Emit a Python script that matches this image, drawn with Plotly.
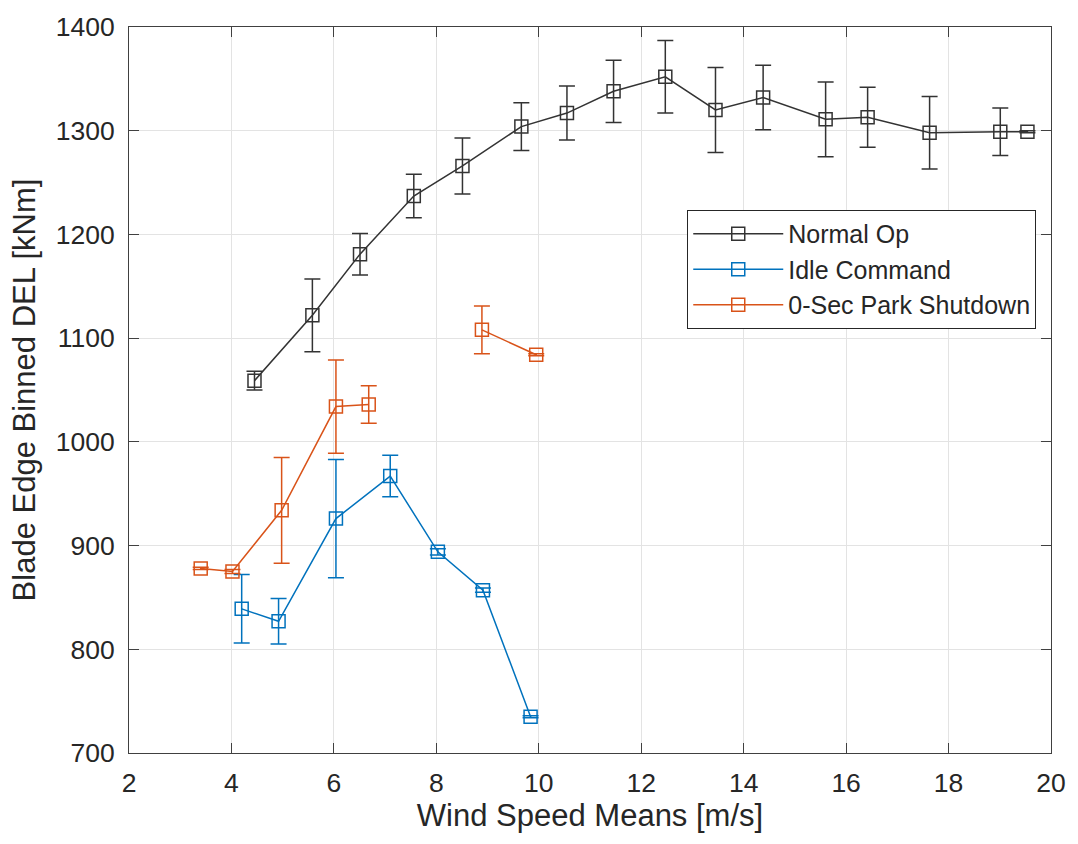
import plotly.graph_objects as go

# Normal Op
normal_x = [4.45, 5.58, 6.51, 7.56, 8.51, 9.66, 10.55, 11.46, 12.47, 13.45, 14.38, 15.60, 16.42, 17.63, 19.01, 19.54]
normal_y = [1059, 1122, 1181, 1237, 1266, 1304, 1317, 1338, 1352, 1320, 1332, 1311, 1313, 1298, 1299, 1299]
normal_err = [9, 35, 20, 21, 27, 23, 26, 30, 35, 41, 31, 36, 29, 35, 23, 1]

# Idle Command
idle_x = [4.20, 4.92, 6.04, 7.10, 8.03, 8.91, 9.84]
idle_y = [839, 827, 926, 967, 894, 857, 735]
idle_err = [33, 22, 57, 20, 3, 2, 1]

# 0-Sec Park Shutdown (None marks the gap in the line between the two groups)
park_x = [3.40, 4.02, 4.98, 6.04, 6.68, None, 8.89, 9.95]
park_y = [878, 875, 934, 1034, 1036, None, 1108, 1084]
park_err = [1, 2, 51, 45, 18, 0, 23, 1]

x_ticks = [2, 4, 6, 8, 10, 12, 14, 16, 18, 20]
y_ticks = [700, 800, 900, 1000, 1100, 1200, 1300, 1400]

FONT = "Liberation Sans, Arial, sans-serif"
TXT = "#262626"

series = [
    ("Normal Op", normal_x, normal_y, normal_err, "#333333"),
    ("Idle Command", idle_x, idle_y, idle_err, "#0072BD"),
    ("0-Sec Park Shutdown", park_x, park_y, park_err, "#D95319"),
]

fig = go.Figure()
for name, xs, ys, es, col in series:
    fig.add_trace(go.Scatter(
        x=xs, y=ys, name=name, mode="lines+markers", connectgaps=False,
        line=dict(color=col, width=1.5),
        marker=dict(symbol="square-open", size=13, color=col, line=dict(width=1.5, color=col)),
        error_y=dict(type="data", array=es, visible=True, color=col, thickness=1.5, width=8),
    ))

axis_common = dict(
    showgrid=True, gridcolor="#e3e3e3", gridwidth=1,
    showline=True, linecolor="#404040", linewidth=1, mirror="ticks",
    ticks="inside", ticklen=10, tickcolor="#404040", tickwidth=1,
    tickfont=dict(family=FONT, size=26.5, color=TXT),
    zeroline=False,
)

fig.update_layout(
    width=1078, height=844,
    margin=dict(l=129, r=20, t=19, b=91),
    paper_bgcolor="white", plot_bgcolor="white",
    font=dict(family=FONT, color=TXT),
    xaxis=dict(range=[2, 20], tickvals=x_ticks, ticklabelstandoff=6,
               title=dict(text="Wind Speed Means [m/s]", font=dict(family=FONT, size=31, color=TXT), standoff=4),
               **axis_common),
    yaxis=dict(range=[700, 1400], tickvals=y_ticks, ticklabelstandoff=8,
               title=dict(text="Blade Edge Binned DEL [kNm]", font=dict(family=FONT, size=31, color=TXT), standoff=10),
               **axis_common),
    legend=dict(x=0.984, y=0.748, xanchor="right", yanchor="top",
                bgcolor="white", bordercolor="#262626", borderwidth=1,
                font=dict(family=FONT, size=25, color=TXT),
                itemwidth=90),
    showlegend=True,
)

fig.write_html("out.html")
